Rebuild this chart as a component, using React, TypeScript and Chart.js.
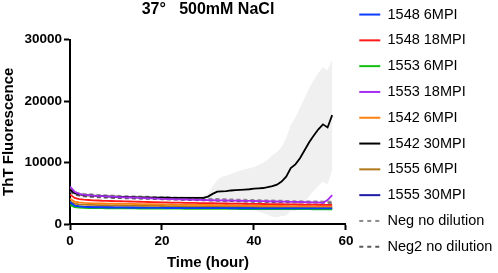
import React, { useEffect, useRef } from "react";
import { Chart, registerables } from "chart.js";

Chart.register(...registerables);

// ---------- data ----------
const hours = [
  0, 1, 2, 3, 4, 5, 6, 7, 8, 9,
  10, 11, 12, 13, 14, 15, 16, 17, 18, 19,
  20, 21, 22, 23, 24, 25, 26, 27, 28, 29,
  30, 31, 32, 33, 34, 35, 36, 37, 38, 39,
  40, 41, 42, 43, 44, 45, 46, 47, 48, 49,
  50, 51, 52, 53, 54, 55, 56, 57,
];

const s1548_6 = [
  3600, 3000, 2850, 2780, 2740, 2720, 2700, 2690, 2680, 2670,
  2660, 2650, 2650, 2640, 2640, 2630, 2630, 2620, 2620, 2610,
  2610, 2600, 2600, 2600, 2590, 2590, 2590, 2580, 2580, 2580,
  2580, 2570, 2570, 2570, 2570, 2560, 2560, 2560, 2560, 2560,
  2550, 2550, 2550, 2550, 2550, 2550, 2540, 2540, 2540, 2540,
  2540, 2540, 2530, 2530, 2530, 2530, 2530, 2530,
];
const s1548_18 = [
  4800, 4250, 4050, 3950, 3900, 3850, 3820, 3780, 3760, 3740,
  3720, 3700, 3680, 3660, 3640, 3620, 3600, 3580, 3560, 3540,
  3520, 3500, 3480, 3470, 3460, 3440, 3430, 3420, 3400, 3390,
  3380, 3370, 3360, 3340, 3330, 3320, 3310, 3300, 3290, 3280,
  3270, 3260, 3250, 3240, 3230, 3220, 3210, 3200, 3190, 3180,
  3170, 3160, 3150, 3140, 3130, 3120, 3110, 3100,
];
const s1553_6 = [
  3100, 2750, 2650, 2620, 2600, 2590, 2580, 2570, 2560, 2550,
  2550, 2540, 2540, 2530, 2530, 2520, 2520, 2510, 2510, 2500,
  2500, 2500, 2490, 2490, 2490, 2480, 2480, 2480, 2470, 2470,
  2470, 2460, 2460, 2460, 2450, 2450, 2450, 2440, 2440, 2440,
  2440, 2430, 2430, 2430, 2430, 2420, 2420, 2420, 2420, 2410,
  2410, 2410, 2410, 2400, 2400, 2400, 2400, 2400,
];
const s1553_18 = [
  6100, 5250, 4900, 4750, 4680, 4600, 4560, 4520, 4480, 4440,
  4400, 4370, 4340, 4310, 4280, 4250, 4220, 4190, 4160, 4120,
  4080, 4060, 4040, 4020, 4000, 3980, 3960, 3940, 3920, 3900,
  3880, 3860, 3850, 3840, 3820, 3800, 3790, 3780, 3770, 3750,
  3740, 3720, 3710, 3700, 3680, 3660, 3650, 3630, 3610, 3600,
  3580, 3560, 3540, 3520, 3500, 3450, 3900, 4700,
];
const s1542_6 = [
  4100, 3650, 3500, 3440, 3400, 3370, 3350, 3330, 3320, 3300,
  3290, 3280, 3270, 3260, 3250, 3240, 3230, 3220, 3210, 3200,
  3190, 3180, 3170, 3160, 3150, 3140, 3130, 3120, 3110, 3100,
  3090, 3080, 3070, 3060, 3050, 3040, 3030, 3020, 3010, 3000,
  2990, 2980, 2970, 2960, 2950, 2940, 2930, 2920, 2910, 2900,
  2900, 2890, 2890, 2880, 2880, 2870, 2870, 2860,
];
const s1542_30 = [
  5600, 5000, 4800, 4700, 4650, 4600, 4560, 4520, 4490, 4460,
  4430, 4410, 4390, 4370, 4350, 4340, 4320, 4310, 4300, 4290,
  4280, 4270, 4260, 4260, 4250, 4250, 4240, 4240, 4250, 4260,
  4450, 4900, 5250, 5300, 5350, 5450, 5500, 5550, 5600, 5650,
  5750, 5800, 5850, 6000, 6150, 6400, 6900, 7700, 9100, 9700,
  10700, 12000, 13300, 14400, 15400, 16200, 15700, 17700,
];
const sd1542_30 = [
  350, 320, 300, 300, 290, 290, 280, 280, 280, 280,
  280, 280, 280, 280, 280, 280, 280, 280, 280, 280,
  280, 280, 280, 280, 280, 290, 300, 300, 320, 350,
  500, 1200, 1900, 2400, 2500, 2700, 2900, 3100, 3300, 3400,
  3500, 3800, 4100, 4500, 5000, 5300, 5600, 6300, 7000, 7600,
  8200, 8500, 8800, 9000, 9200, 9300, 9300, 9000,
];
const s1555_6 = [
  3700, 3300, 3200, 3150, 3120, 3100, 3080, 3060, 3050, 3040,
  3030, 3020, 3010, 3000, 2990, 2980, 2970, 2960, 2950, 2940,
  2930, 2920, 2910, 2900, 2900, 2890, 2880, 2870, 2870, 2860,
  2860, 2850, 2850, 2840, 2840, 2830, 2830, 2820, 2820, 2810,
  2810, 2800, 2800, 2800, 2790, 2790, 2790, 2780, 2780, 2780,
  2770, 2770, 2770, 2760, 2760, 2760, 2760, 2750,
];
const s1555_30 = [
  3400, 2950, 2850, 2800, 2780, 2760, 2750, 2740, 2730, 2720,
  2710, 2700, 2700, 2690, 2690, 2680, 2680, 2670, 2670, 2660,
  2660, 2660, 2650, 2650, 2650, 2640, 2640, 2640, 2630, 2630,
  2630, 2630, 2620, 2620, 2620, 2620, 2610, 2610, 2610, 2610,
  2600, 2600, 2600, 2600, 2600, 2590, 2590, 2590, 2590, 2590,
  2580, 2580, 2580, 2580, 2580, 2580, 2570, 2570,
];
const sNeg = [
  5800, 5200, 5000, 4900, 4850, 4800, 4750, 4700, 4660, 4630,
  4600, 4570, 4540, 4510, 4490, 4470, 4450, 4430, 4410, 4390,
  4370, 4350, 4330, 4300, 4280, 4250, 4220, 4200, 4170, 4150,
  4120, 4100, 4080, 4050, 4030, 4000, 3980, 3960, 3940, 3920,
  3900, 3880, 3860, 3840, 3820, 3800, 3780, 3760, 3740, 3720,
  3700, 3690, 3680, 3670, 3660, 3650, 3640, 3630,
];
const sNeg2 = [
  5300, 4800, 4600, 4500, 4450, 4400, 4350, 4310, 4280, 4250,
  4220, 4200, 4180, 4160, 4140, 4120, 4100, 4080, 4060, 4040,
  4020, 4000, 3980, 3960, 3940, 3920, 3900, 3880, 3860, 3840,
  3820, 3800, 3780, 3760, 3740, 3720, 3700, 3680, 3660, 3640,
  3620, 3600, 3590, 3580, 3570, 3560, 3550, 3540, 3530, 3520,
  3510, 3500, 3490, 3480, 3470, 3460, 3450, 3440,
];

const seriesNames = [
  "1548 6MPI",
  "1548 18MPI",
  "1553 6MPI",
  "1553 18MPI",
  "1542 6MPI",
  "1542 30MPI",
  "1555 6MPI",
  "1555 30MPI",
  "Neg no dilution",
  "Neg2 no dilution",
];
const seriesValues = [
  s1548_6, s1548_18, s1553_6, s1553_18, s1542_6,
  s1542_30, s1555_6, s1555_30, sNeg, sNeg2,
];
const seriesColors = [
  "#0a3cff", "#ff1a1a", "#10c010", "#a52cf0", "#ff8010",
  "#000000", "#b07818", "#1c1ca8", "#8a8a8a", "#5a5a5a",
];
const seriesDashed = [false, false, false, false, false, false, false, false, true, true];

const xTicks = [0, 20, 40, 60];
const yTicks = [0, 10000, 20000, 30000];

const titleText = "37°   500mM NaCl";
const xTitle = "Time (hour)";
const yTitle = "ThT Fluorescence";

const FONT = "'Liberation Sans', Arial, Helvetica, sans-serif";

// nudges the legend box so its items sit where the reference has them
const legendShift = {
  id: "legendShift",
  afterLayout(chart: any) {
    const l = chart.legend;
    if (l) {
      l.left += 2;
      l.right = chart.width;
      l.top -= 4;
      l.bottom -= 4;
    }
  },
};

export default function App() {
  const ref = useRef<HTMLCanvasElement>(null);

  useEffect(() => {
    document.body.style.margin = "0";
    const pts = (v: number[]) => v.map((y, i) => ({ x: hours[i], y }));
    const upper = s1542_30.map((v, i) => v + sd1542_30[i]);
    const lower = s1542_30.map((v, i) => Math.max(0, v - sd1542_30[i]));

    const datasets: any[] = [
      {
        label: "band upper",
        band: true,
        data: pts(upper),
        borderWidth: 0,
        borderColor: "rgba(0,0,0,0)",
        backgroundColor: "rgba(225,225,225,0.5)",
        pointRadius: 0,
        fill: "+1",
      },
      {
        label: "band lower",
        band: true,
        data: pts(lower),
        borderWidth: 0,
        borderColor: "rgba(0,0,0,0)",
        backgroundColor: "rgba(0,0,0,0)",
        pointRadius: 0,
        fill: false,
      },
    ];
    seriesNames.forEach((name, i) => {
      datasets.push({
        label: name,
        data: pts(seriesValues[i]),
        borderColor: seriesColors[i],
        backgroundColor: seriesColors[i],
        borderWidth: 1.8,
        borderDash: seriesDashed[i] ? [4, 3] : [],
        pointRadius: 0,
        pointStyle: "line",
        fill: false,
        tension: 0,
      });
    });

    const tickFont = { family: FONT, size: 13.5, weight: "bold" as const };
    const titleFont = { family: FONT, size: 15, weight: "bold" as const };
    const defaultLabels = (Chart.defaults as any).plugins.legend.labels.generateLabels;

    const chart = new Chart(ref.current!, {
      type: "line",
      data: { datasets },
      plugins: [legendShift],
      options: {
        animation: false,
        responsive: false,
        devicePixelRatio: 1,
        layout: { padding: { left: 0, right: 36.7, top: 0, bottom: 0 } },
        plugins: {
          filler: { drawTime: "beforeDatasetsDraw" },
          tooltip: { enabled: false },
          title: {
            display: true,
            text: titleText,
            fullSize: false,
            color: "#000",
            font: { family: FONT, size: 16, weight: "bold" },
            padding: { top: 0, bottom: 20.3 },
          },
          legend: {
            display: true,
            position: "right",
            align: "start",
            labels: {
              usePointStyle: true,
              pointStyleWidth: 21,
              padding: 11.3,
              color: "#000",
              font: { family: FONT, size: 14.5 },
              generateLabels: (c: any) => {
                const items = defaultLabels(c);
                items.forEach((it: any) => {
                  const ds = c.data.datasets[it.datasetIndex];
                  it.lineDash = ds.borderDash && ds.borderDash.length ? [4, 4] : [];
                  it.lineWidth = 2;
                  it.strokeStyle = ds.borderColor;
                });
                return items;
              },
              filter: (item: any, data: any) => !data.datasets[item.datasetIndex].band,
            },
          },
        },
        scales: {
          x: {
            type: "linear",
            min: 0,
            max: 60,
            afterFit: (s: any) => {
              s.height = 49;
            },
            afterBuildTicks: (s: any) => {
              s.ticks = xTicks.map((v) => ({ value: v }));
            },
            ticks: {
              color: "#000",
              font: tickFont,
              padding: 3,
              maxRotation: 0,
              callback: (v: any) => String(v),
            },
            grid: {
              drawOnChartArea: false,
              drawTicks: true,
              tickLength: 6,
              tickWidth: 2,
              tickColor: "#000",
            },
            border: { display: true, color: "#000", width: 2 },
            title: {
              display: true,
              text: xTitle,
              color: "#000",
              font: titleFont,
              padding: { top: 0, bottom: 1.3 },
            },
          },
          y: {
            type: "linear",
            min: 0,
            max: 30000,
            afterFit: (s: any) => {
              s.width = 70;
            },
            afterBuildTicks: (s: any) => {
              s.ticks = yTicks.map((v) => ({ value: v }));
            },
            ticks: {
              color: "#000",
              font: tickFont,
              padding: 2,
              callback: (v: any) => String(v),
            },
            grid: {
              drawOnChartArea: false,
              drawTicks: true,
              tickLength: 6,
              tickWidth: 2,
              tickColor: "#000",
            },
            border: { display: true, color: "#000", width: 2 },
            title: {
              display: true,
              text: yTitle,
              color: "#000",
              font: titleFont,
              padding: { top: 0, bottom: 0 },
            },
          },
        },
      } as any,
    });
    return () => chart.destroy();
  }, []);

  return (
    <div style={{ width: 498, height: 273, position: "relative" }}>
      <canvas ref={ref} width={498} height={273} style={{ display: "block" }} />
    </div>
  );
}
